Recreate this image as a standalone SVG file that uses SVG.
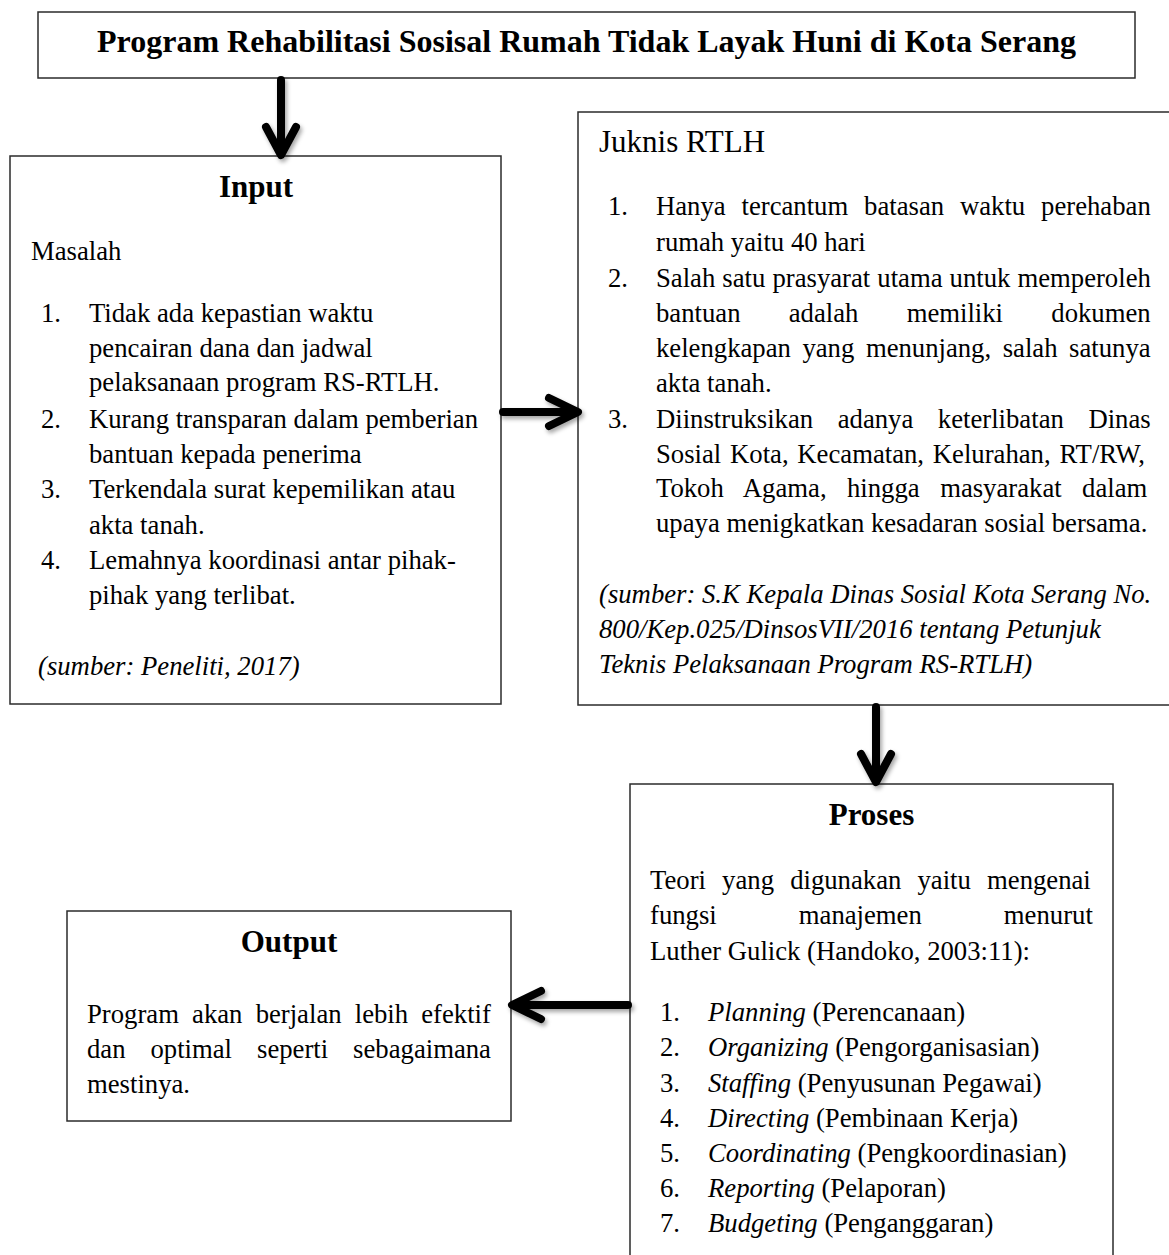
<svg xmlns="http://www.w3.org/2000/svg" width="1169" height="1255" viewBox="0 0 1169 1255">
<style>
.box{fill:#fff;stroke:#2b2b2b;stroke-width:1.5}
text{font-family:"Liberation Serif","Times New Roman",serif;fill:#000}
.t{font-size:26.7px}
.h{font-size:31px;font-weight:bold;text-anchor:middle}
.it{font-style:italic}
.arr{fill:none;stroke:#000;stroke-width:8;stroke-linecap:round;stroke-linejoin:round}
</style>
<defs>
<filter id="sh" x="-50%" y="-50%" width="200%" height="200%">
<feDropShadow dx="2" dy="3" stdDeviation="2" flood-color="#000" flood-opacity="0.35"/>
</filter>
</defs>
<rect width="1169" height="1255" fill="#fff"/>

<g id="title">
<rect class="box" x="38" y="12" width="1097" height="66"/>
<text x="586.5" y="52" style="font-size:32px;font-weight:bold;text-anchor:middle">Program Rehabilitasi Sosisal Rumah Tidak Layak Huni di Kota Serang</text>
</g>

<g id="input">
<rect class="box" x="10" y="156" width="491" height="548"/>
<text class="h" x="256" y="197">Input</text>
<text class="t" x="31" y="260">Masalah</text>
<text class="t" x="41" y="322">1.</text>
<text class="t" x="89" y="322">Tidak ada kepastian waktu</text>
<text class="t" x="89" y="357">pencairan dana dan jadwal</text>
<text class="t" x="89" y="391">pelaksanaan program RS-RTLH.</text>
<text class="t" x="41" y="428">2.</text>
<text class="t" x="89" y="428">Kurang transparan dalam pemberian</text>
<text class="t" x="89" y="463">bantuan kepada penerima</text>
<text class="t" x="41" y="498">3.</text>
<text class="t" x="89" y="498">Terkendala surat kepemilikan atau</text>
<text class="t" x="89" y="534">akta tanah.</text>
<text class="t" x="41" y="569">4.</text>
<text class="t" x="89" y="569">Lemahnya koordinasi antar pihak-</text>
<text class="t" x="89" y="604">pihak yang terlibat.</text>
<text class="t it" x="38" y="675">(sumber: Peneliti, 2017)</text>
</g>

<g id="juknis">
<rect class="box" x="578" y="112" width="640" height="593"/>
<text x="599" y="152" style="font-size:31px">Juknis RTLH</text>
<text class="t" x="608" y="215">1.</text>
<text class="t" x="656" y="215" word-spacing="9.2">Hanya tercantum batasan waktu perehaban</text>
<text class="t" x="656" y="251">rumah yaitu 40 hari</text>
<text class="t" x="608" y="287">2.</text>
<text class="t" x="656" y="287" word-spacing="0.4">Salah satu prasyarat utama untuk memperoleh</text>
<text class="t" x="656" y="322" word-spacing="41.6">bantuan adalah memiliki dokumen</text>
<text class="t" x="656" y="357" word-spacing="4.9">kelengkapan yang menunjang, salah satunya</text>
<text class="t" x="656" y="392">akta tanah.</text>
<text class="t" x="608" y="428">3.</text>
<text class="t" x="656" y="428" word-spacing="17.9">Diinstruksikan adanya keterlibatan Dinas</text>
<text class="t" x="656" y="463" word-spacing="2.1">Sosial Kota, Kecamatan, Kelurahan, RT/RW,</text>
<text class="t" x="656" y="497" word-spacing="13.8">Tokoh Agama, hingga masyarakat dalam</text>
<text class="t" x="656" y="532">upaya menigkatkan kesadaran sosial bersama.</text>
<text class="t it" x="599" y="603">(sumber: S.K Kepala Dinas Sosial Kota Serang No.</text>
<text class="t it" x="599" y="638">800/Kep.025/DinsosVII/2016 tentang Petunjuk</text>
<text class="t it" x="599" y="673">Teknis Pelaksanaan Program RS-RTLH)</text>
</g>

<g id="proses">
<rect class="box" x="630" y="784" width="483" height="500"/>
<text class="h" x="871.5" y="825">Proses</text>
<text class="t" x="650" y="889" word-spacing="9.5">Teori yang digunakan yaitu mengenai</text>
<text class="t" x="650" y="924" word-spacing="75.4">fungsi manajemen menurut</text>
<text class="t" x="650" y="960">Luther Gulick (Handoko, 2003:11):</text>
<text class="t" x="660" y="1021">1.</text>
<text class="t" x="708" y="1021"><tspan class="it">Planning</tspan> (Perencanaan)</text>
<text class="t" x="660" y="1056">2.</text>
<text class="t" x="708" y="1056"><tspan class="it">Organizing</tspan> (Pengorganisasian)</text>
<text class="t" x="660" y="1092">3.</text>
<text class="t" x="708" y="1092"><tspan class="it">Staffing</tspan> (Penyusunan Pegawai)</text>
<text class="t" x="660" y="1127">4.</text>
<text class="t" x="708" y="1127"><tspan class="it">Directing</tspan> (Pembinaan Kerja)</text>
<text class="t" x="660" y="1162">5.</text>
<text class="t" x="708" y="1162"><tspan class="it">Coordinating</tspan> (Pengkoordinasian)</text>
<text class="t" x="660" y="1197">6.</text>
<text class="t" x="708" y="1197"><tspan class="it">Reporting</tspan> (Pelaporan)</text>
<text class="t" x="660" y="1232">7.</text>
<text class="t" x="708" y="1232"><tspan class="it">Budgeting</tspan> (Penganggaran)</text>
</g>

<g id="output">
<rect class="box" x="67" y="911" width="444" height="210"/>
<text class="h" x="289" y="952">Output</text>
<text class="t" x="87" y="1023" word-spacing="6.5">Program akan berjalan lebih efektif</text>
<text class="t" x="87" y="1058" word-spacing="18.3">dan optimal seperti sebagaimana</text>
<text class="t" x="87" y="1093">mestinya.</text>
</g>

<g id="connectors" filter="url(#sh)">
<path class="arr" d="M281 80 V154 M266 127 L281 155 L296 127"/>
<path class="arr" d="M503 412 H577 M549 398 L578 412 L549 426"/>
<path class="arr" d="M876 707 V781 M861 754 L876 782 L891 754"/>
<path class="arr" d="M628 1005 H514 M541 991 L512 1005 L541 1019"/>
</g>
</svg>
